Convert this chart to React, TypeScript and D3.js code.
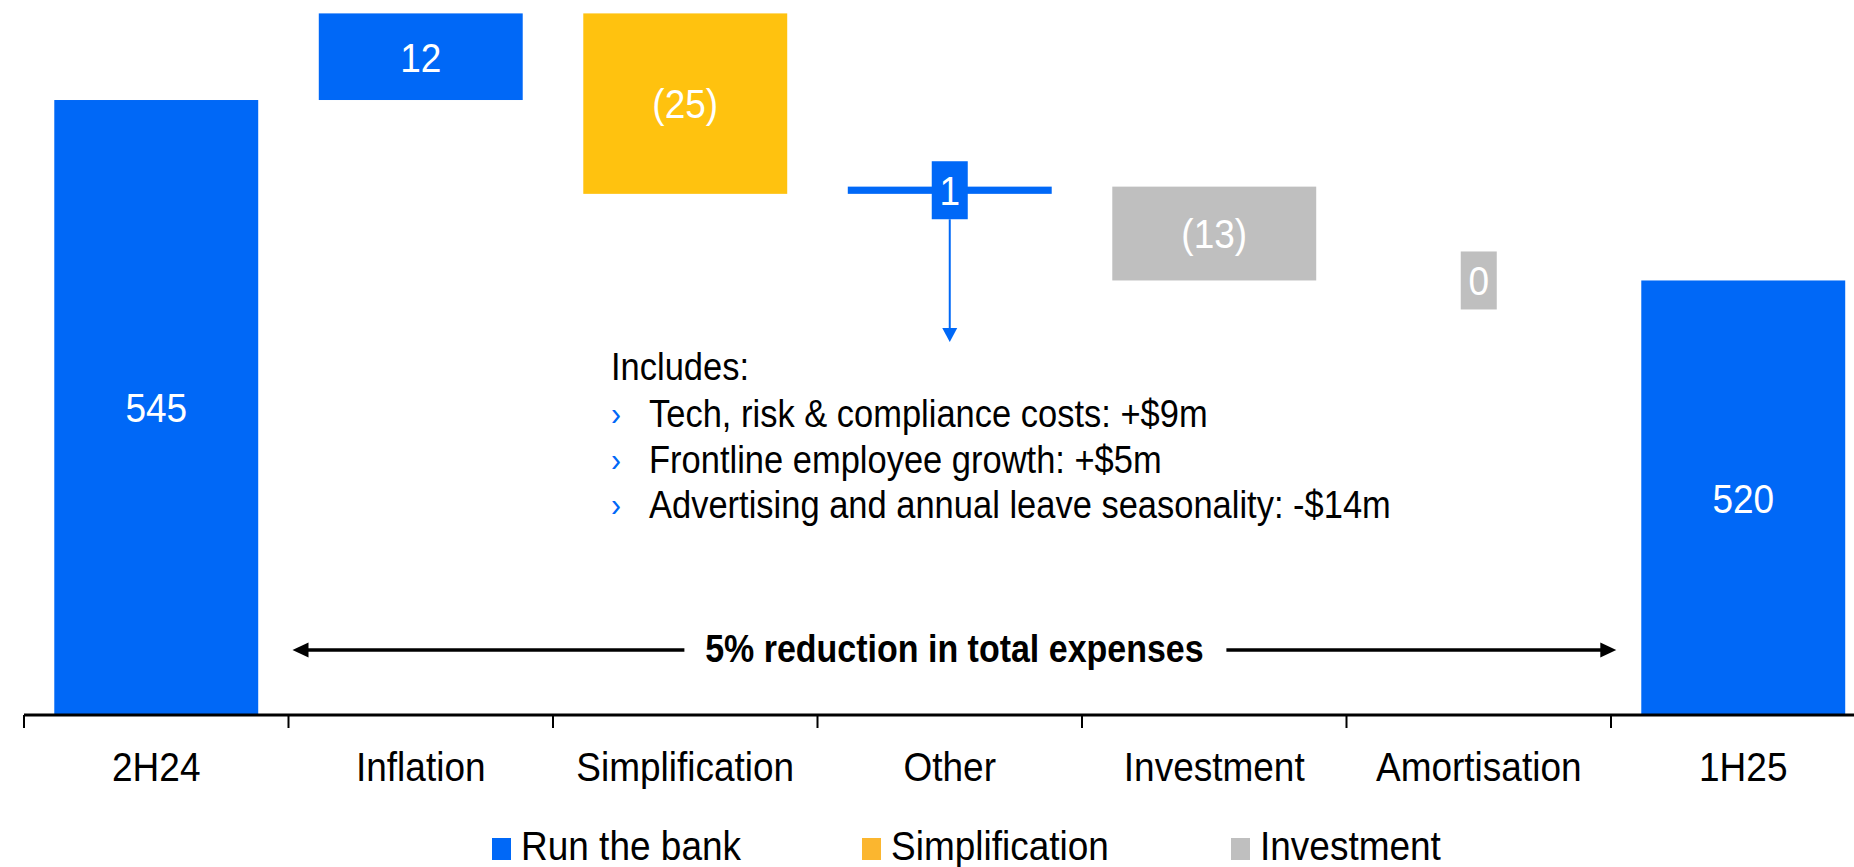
import React, { useEffect, useRef } from 'react';
import * as d3 from 'd3';

const categories = ['2H24', 'Inflation', 'Simplification', 'Other', 'Investment', 'Amortisation', '1H25'];
const values = [545, 12, -25, 1, -13, 0, 520];
const isTotal = [true, false, false, false, false, false, true];
const barSeries = ['Run the bank', 'Run the bank', 'Simplification', 'Run the bank', 'Investment', 'Investment', 'Run the bank'];
const valueLabels = ['545', '12', '(25)', '1', '(13)', '0', '520'];
const legendNames = ['Run the bank', 'Simplification', 'Investment'];
const noteTitle = 'Includes:';
const noteLines = [
  'Tech, risk & compliance costs: +$9m',
  'Frontline employee growth: +$5m',
  'Advertising and annual leave seasonality: -$14m',
];
const spanLabel = '5% reduction in total expenses';

const barColor: Record<string, string> = {
  'Run the bank': '#0068F7',
  Simplification: '#FFC20F',
  Investment: '#BFBFBF',
};
const legendColor: Record<string, string> = {
  'Run the bank': '#0068F7',
  Simplification: '#FBB62F',
  Investment: '#BFBFBF',
};

const W = 1854;
const H = 867;
const FONT = 'Liberation Sans, Arial, sans-serif';
const STRETCH = 1.12; // source text is a little taller than Arial

const App: React.FC = () => {
  const svgRef = useRef<SVGSVGElement>(null);

  useEffect(() => {
    if (svgRef.current == null) return;
    const svg = d3.select(svgRef.current);
    svg.selectAll('*').remove();

    const baseY = 715;
    const x = d3.scaleBand<string>()
      .domain(categories)
      .range([24, 1875.5])
      .paddingInner(0.229)
      .paddingOuter(0.1145);
    // axis floor is cut, so the scale starts near 460
    const y = d3.scaleLinear().domain([459.8, 557]).range([baseY, 13.4]);

    const text = (g: any, tx: number, ty: number, str: string, size: number, opts: any = {}) => {
      return g.append('text')
        .attr('transform', `translate(${tx},${ty}) scale(1,${STRETCH})`)
        .attr('font-family', FONT)
        .attr('font-size', size)
        .attr('font-weight', opts.weight || 'normal')
        .attr('text-anchor', opts.anchor || 'middle')
        .attr('fill', opts.fill || '#000')
        .text(str);
    };

    // waterfall geometry
    let level = 0;
    const bars = categories.map((c, i) => {
      let lo: number, hi: number;
      if (isTotal[i]) {
        lo = y.domain()[0];
        hi = values[i];
        level = values[i];
      } else {
        const start = level;
        level = start + values[i];
        lo = Math.min(start, level);
        hi = Math.max(start, level);
      }
      return { c, i, lo, hi };
    });

    const gBars = svg.append('g');
    bars.forEach(b => {
      const bx = x(b.c)!;
      const top = y(b.hi);
      const h = y(b.lo) - y(b.hi);
      const col = barColor[barSeries[b.i]];
      if (h > 0) {
        gBars.append('rect')
          .attr('x', bx).attr('y', top)
          .attr('width', x.bandwidth()).attr('height', h)
          .attr('fill', col);
      }
      const cx = bx + x.bandwidth() / 2;
      const cy = top + h / 2;
      const size = 37;
      if (h < 50) {
        gBars.append('rect')
          .attr('x', cx - 18).attr('y', cy - 29)
          .attr('width', 36).attr('height', 58)
          .attr('fill', col);
      }
      text(gBars, cx, cy + 0.358 * size * STRETCH, valueLabels[b.i], size, { fill: '#fff' });
    });

    // annotation arrow from "Other"
    const other = bars[3];
    const ox = x(other.c)! + x.bandwidth() / 2;
    const oy = y((other.lo + other.hi) / 2) + 29;
    svg.append('line')
      .attr('x1', ox).attr('x2', ox)
      .attr('y1', oy).attr('y2', 330)
      .attr('stroke', '#0068F7').attr('stroke-width', 2);
    svg.append('path')
      .attr('d', `M${ox - 7.5},328 L${ox + 7.5},328 L${ox},342 Z`)
      .attr('fill', '#0068F7');

    // note text
    const noteX = 611;
    text(svg, noteX, 380, noteTitle, 34.5, { anchor: 'start' });
    noteLines.forEach((ln, k) => {
      const by = 427 + k * 45.5;
      text(svg, noteX, by - 2, '›', 30, { anchor: 'start', fill: '#0068F7' });
      text(svg, 649, by, ln, 34.5, { anchor: 'start' });
    });

    // span arrow
    const ay = 650;
    const ax0 = x.range()[0] + x.step() * 1 + 4;
    const ax1 = x(categories[6])! - 25;
    const mid = (ax0 + ax1) / 2;
    svg.append('line').attr('x1', ax0 + 10).attr('x2', mid - 270).attr('y1', ay).attr('y2', ay)
      .attr('stroke', '#000').attr('stroke-width', 3.5);
    svg.append('line').attr('x1', mid + 272).attr('x2', ax1 - 10).attr('y1', ay).attr('y2', ay)
      .attr('stroke', '#000').attr('stroke-width', 3.5);
    svg.append('path').attr('d', `M${ax0},${ay} L${ax0 + 16},${ay - 7.5} L${ax0 + 16},${ay + 7.5} Z`).attr('fill', '#000');
    svg.append('path').attr('d', `M${ax1},${ay} L${ax1 - 16},${ay - 7.5} L${ax1 - 16},${ay + 7.5} Z`).attr('fill', '#000');
    text(svg, mid, 662, spanLabel, 34, { weight: 'bold' });

    // x axis
    const gAxis = svg.append('g');
    gAxis.append('line')
      .attr('x1', 24).attr('x2', W)
      .attr('y1', baseY).attr('y2', baseY)
      .attr('stroke', '#000').attr('stroke-width', 3);
    categories.forEach(c => {
      const tx = x(c)! - (x.step() - x.bandwidth()) / 2;
      gAxis.append('line')
        .attr('x1', tx).attr('x2', tx)
        .attr('y1', baseY).attr('y2', baseY + 13)
        .attr('stroke', '#000').attr('stroke-width', 2);
      text(gAxis, x(c)! + x.bandwidth() / 2, 781, c, 37);
    });

    // legend
    const legendX = [492, 862, 1231];
    legendNames.forEach((n, k) => {
      svg.append('rect')
        .attr('x', legendX[k]).attr('y', 838)
        .attr('width', 19).attr('height', 22)
        .attr('fill', legendColor[n]);
      text(svg, legendX[k] + 29, 860, n, 37, { anchor: 'start' });
    });
  }, []);

  return (
    <svg
      ref={svgRef}
      width={W}
      height={H}
      style={{ position: 'absolute', left: 0, top: 0, background: '#fff' }}
    />
  );
};

export default App;
